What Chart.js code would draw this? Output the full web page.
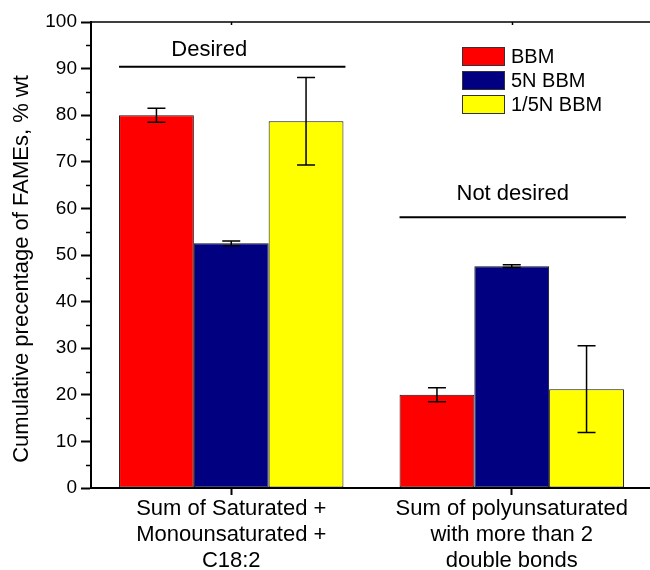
<!DOCTYPE html>
<html>
<head>
<meta charset="utf-8">
<script src="https://cdn.jsdelivr.net/npm/chart.js@4/dist/chart.umd.min.js"></script>
<style>
  html, body { margin: 0; padding: 0; background: #fff; overflow: hidden; }
  #wrap { width: 650px; height: 570px; overflow: hidden; }
  canvas { display: block; }
</style>
</head>
<body>
<div id="wrap"><canvas id="chart" width="652" height="570"></canvas></div>
<script>
const categories = [
  ['Sum of Saturated +', 'Monounsaturated +', 'C18:2'],
  ['Sum of polyunsaturated', 'with more than 2', 'double bonds']
];
const seriesNames = ['BBM', '5N BBM', '1/5N BBM'];
const bbmValues = [80.0, 20.0];
const bbm5NValues = [52.5, 47.6];
const bbm15NValues = [78.7, 21.2];
const bbmErrors = [1.5, 1.5];
const bbm5NErrors = [0.5, 0.3];
const bbm15NErrors = [9.4, 9.3];
const yTitle = 'Cumulative precentage of FAMEs, % wt';
const noteTexts = ['Desired', 'Not desired'];
const noteLineLevels = [90.4, 58.1];
const noteTextLevels = [94.1, 63.1];

const FONT = 'Arial, "Liberation Sans", sans-serif';
const colors = ['#ff0000', '#000080', '#ffff00'];
const errors = [bbmErrors, bbm5NErrors, bbm15NErrors];
const noteShift = [-23, 0];

const extras = {
  id: 'extras',
  afterDatasetsDraw(chart) {
    const ctx = chart.ctx;
    const y = chart.scales.y;
    ctx.save();
    ctx.strokeStyle = '#000';
    ctx.lineWidth = 1.5;
    chart.data.datasets.forEach((ds, i) => {
      chart.getDatasetMeta(i).data.forEach((bar, j) => {
        const v = ds.data[j], e = errors[i][j];
        const top = y.getPixelForValue(v + e), bot = y.getPixelForValue(v - e);
        const cap = 9;
        ctx.beginPath();
        ctx.moveTo(bar.x, top); ctx.lineTo(bar.x, bot);
        ctx.moveTo(bar.x - cap, top); ctx.lineTo(bar.x + cap, top);
        ctx.moveTo(bar.x - cap, bot); ctx.lineTo(bar.x + cap, bot);
        ctx.stroke();
      });
    });
    ctx.restore();
  },
  afterDraw(chart) {
    const ctx = chart.ctx;
    const area = chart.chartArea;
    const x = chart.scales.x, y = chart.scales.y;
    ctx.save();
    ctx.strokeStyle = '#000';
    ctx.fillStyle = '#000';

    // minor ticks on y
    ctx.lineWidth = 1.5;
    ctx.beginPath();
    for (let v = 5; v < 100; v += 10) {
      const py = Math.round(y.getPixelForValue(v)) + 0.5;
      ctx.moveTo(area.left - 5, py); ctx.lineTo(area.left, py);
    }
    ctx.stroke();

    // top frame with small ticks
    ctx.lineWidth = 1.5;
    ctx.beginPath();
    ctx.moveTo(area.left, area.top); ctx.lineTo(area.right, area.top);
    categories.forEach((c, j) => {
      const px = Math.round(x.getPixelForValue(j)) + 0.5;
      ctx.moveTo(px, area.top); ctx.lineTo(px, area.top + 3);
    });
    ctx.stroke();

    // group notes
    const metaFirst = chart.getDatasetMeta(0).data;
    const metaLast = chart.getDatasetMeta(chart.data.datasets.length - 1).data;
    ctx.font = '22px ' + FONT;
    ctx.textAlign = 'center';
    ctx.textBaseline = 'middle';
    ctx.lineWidth = 2;
    noteTexts.forEach((t, j) => {
      const x0 = metaFirst[j].x - metaFirst[j].width / 2;
      const x1 = metaLast[j].x + metaLast[j].width / 2 + 2;
      const ly = y.getPixelForValue(noteLineLevels[j]);
      ctx.beginPath();
      ctx.moveTo(x0, ly); ctx.lineTo(x1, ly);
      ctx.stroke();
      ctx.fillText(t, (x0 + x1) / 2 + noteShift[j], y.getPixelForValue(noteTextLevels[j]));
    });

    // legend
    ctx.font = '20px ' + FONT;
    ctx.textAlign = 'left';
    ctx.lineWidth = 1;
    ctx.strokeStyle = '#333';
    seriesNames.forEach((n, i) => {
      const cy = 56 + i * 24;
      ctx.fillStyle = colors[i];
      ctx.fillRect(462, cy - 9, 42, 18);
      ctx.strokeRect(462.5, cy - 8.5, 42, 18);
      ctx.fillStyle = '#000';
      ctx.fillText(n, 511, cy + 1);
    });

    // y title
    ctx.font = '22px ' + FONT;
    ctx.textAlign = 'center';
    ctx.translate(22, 269);
    ctx.rotate(-Math.PI / 2);
    ctx.fillText(yTitle, 0, 0);
    ctx.restore();
  }
};

new Chart(document.getElementById('chart'), {
  type: 'bar',
  data: {
    labels: categories,
    datasets: [
      { label: seriesNames[0], data: bbmValues },
      { label: seriesNames[1], data: bbm5NValues },
      { label: seriesNames[2], data: bbm15NValues }
    ].map((d, i) => Object.assign(d, {
      backgroundColor: colors[i],
      borderColor: '#111',
      borderWidth: 1,
      borderSkipped: false,
      categoryPercentage: 0.8,
      barPercentage: 1.0
    }))
  },
  plugins: [extras],
  options: {
    responsive: false,
    animation: false,
    layout: { padding: { top: 22, right: 0, left: 0, bottom: 0 } },
    plugins: { legend: { display: false }, tooltip: { enabled: false } },
    scales: {
      x: {
        afterFit: s => { s.height = 82; },
        grid: { display: true, drawOnChartArea: false, offset: false, tickLength: 7, tickWidth: 2, tickColor: '#000' },
        border: { display: true, color: '#000', width: 2 },
        ticks: { color: '#000', padding: 1, maxRotation: 0, autoSkip: false, font: { family: FONT, size: 22, lineHeight: 1.18 } }
      },
      y: {
        min: 0,
        max: 100,
        afterFit: s => { s.width = 91; },
        grid: { display: true, drawOnChartArea: false, tickLength: 10, tickWidth: 2, tickColor: '#000' },
        border: { display: true, color: '#000', width: 2 },
        ticks: { stepSize: 10, color: '#000', padding: 4, font: { family: FONT, size: 19 } }
      }
    }
  }
});
</script>
</body>
</html>
